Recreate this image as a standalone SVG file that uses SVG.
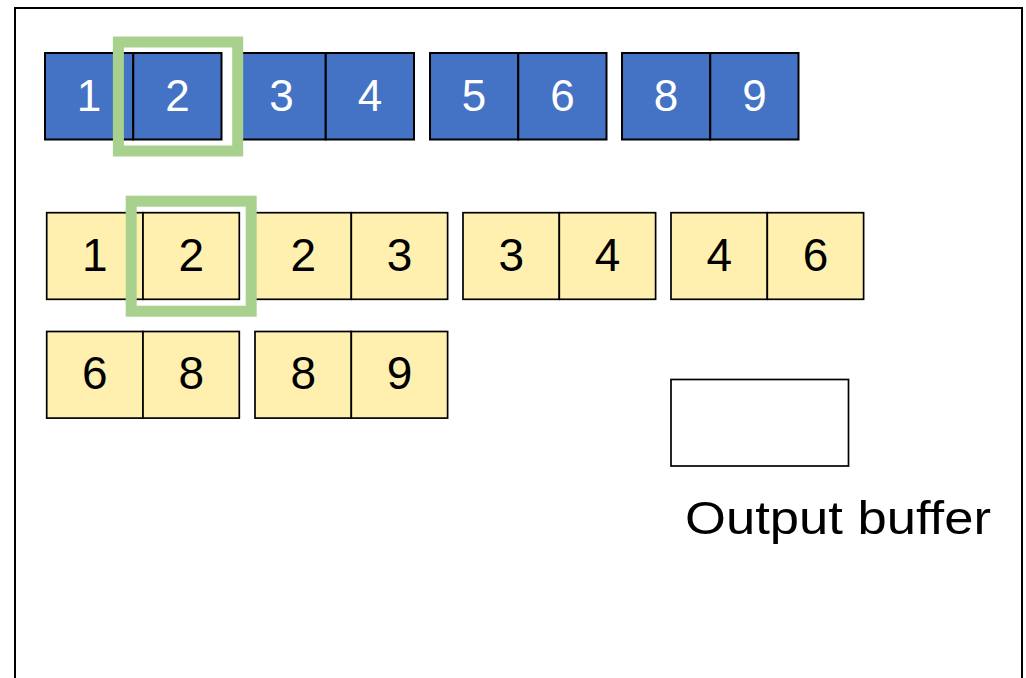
<svg xmlns="http://www.w3.org/2000/svg" width="1026" height="678" viewBox="0 0 1026 678">
<style>
.b{fill:#4472C4;stroke:#000;stroke-width:2}
.y{fill:#FFF0AF;stroke:#000;stroke-width:1.7}
.bt{font-family:"Liberation Sans",Arial,sans-serif;font-size:44px;fill:#fff;text-anchor:middle}
.yt{font-family:"Liberation Sans",Arial,sans-serif;font-size:46px;fill:#000;text-anchor:middle}
.hl{fill:none;stroke:#A9D18E;stroke-width:11}
</style>
<rect width="1026" height="678" fill="#fff"/>
<path id="frame" d="M15,690 V8 H1022 V690" fill="none" stroke="#000" stroke-width="2"/>
<g id="blue-row">
<g id="b1"><rect class="b" x="45" y="53" width="88.25" height="86.5"/><text class="bt" x="89.1" y="111">1</text></g>
<g id="b2"><rect class="b" x="133.25" y="53" width="88.25" height="86.5"/><text class="bt" x="177.4" y="111">2</text></g>
<g id="b3"><rect class="b" x="237.5" y="53" width="88.25" height="86.5"/><text class="bt" x="281.6" y="111">3</text></g>
<g id="b4"><rect class="b" x="325.75" y="53" width="88.25" height="86.5"/><text class="bt" x="369.9" y="111">4</text></g>
<g id="b5"><rect class="b" x="430" y="53" width="88.25" height="86.5"/><text class="bt" x="474.1" y="111">5</text></g>
<g id="b6"><rect class="b" x="518.25" y="53" width="88.25" height="86.5"/><text class="bt" x="562.4" y="111">6</text></g>
<g id="b8"><rect class="b" x="622" y="53" width="88.25" height="86.5"/><text class="bt" x="666.1" y="111">8</text></g>
<g id="b9"><rect class="b" x="710.25" y="53" width="88.25" height="86.5"/><text class="bt" x="754.4" y="111">9</text></g>
</g>
<g id="yellow-row1">
<g id="y1"><rect class="y" x="46.7" y="212.7" width="96.3" height="86.6"/><text class="yt" x="94.9" y="271">1</text></g>
<g id="y2"><rect class="y" x="143" y="212.7" width="96.3" height="86.6"/><text class="yt" x="191.2" y="271">2</text></g>
<g id="y3"><rect class="y" x="255" y="212.7" width="96.3" height="86.6"/><text class="yt" x="303.2" y="271">2</text></g>
<g id="y4"><rect class="y" x="351.3" y="212.7" width="96.3" height="86.6"/><text class="yt" x="399.5" y="271">3</text></g>
<g id="y5"><rect class="y" x="463" y="212.7" width="96.3" height="86.6"/><text class="yt" x="511.2" y="271">3</text></g>
<g id="y6"><rect class="y" x="559.3" y="212.7" width="96.3" height="86.6"/><text class="yt" x="607.5" y="271">4</text></g>
<g id="y7"><rect class="y" x="671" y="212.7" width="96.3" height="86.6"/><text class="yt" x="719.2" y="271">4</text></g>
<g id="y8"><rect class="y" x="767.3" y="212.7" width="96.3" height="86.6"/><text class="yt" x="815.5" y="271">6</text></g>
</g>
<g id="yellow-row2">
<g id="y9"><rect class="y" x="46.7" y="331.5" width="96.3" height="86.6"/><text class="yt" x="94.9" y="389">6</text></g>
<g id="y10"><rect class="y" x="143" y="331.5" width="96.3" height="86.6"/><text class="yt" x="191.2" y="389">8</text></g>
<g id="y11"><rect class="y" x="255" y="331.5" width="96.3" height="86.6"/><text class="yt" x="303.2" y="389">8</text></g>
<g id="y12"><rect class="y" x="351.3" y="331.5" width="96.3" height="86.6"/><text class="yt" x="399.5" y="389">9</text></g>
</g>
<g id="highlight1"><rect class="hl" x="118.4" y="42" width="119.3" height="109"/></g>
<g id="highlight2"><rect class="hl" x="131.2" y="201.2" width="120" height="110"/></g>
<g id="output-buffer">
<rect x="671" y="379.5" width="177.5" height="86.5" fill="#fff" stroke="#000" stroke-width="1.7"/>
<text x="685" y="534" font-family="&quot;Liberation Sans&quot;,Arial,sans-serif" font-size="47" fill="#000" textLength="306" lengthAdjust="spacingAndGlyphs">Output buffer</text>
</g>
<g id="connectors"/>
</svg>
